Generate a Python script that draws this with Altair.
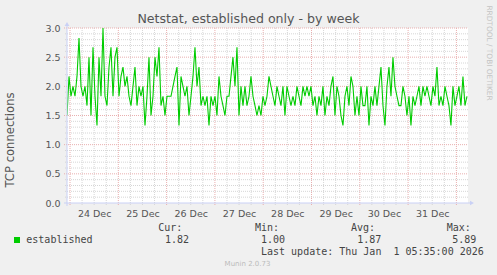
import altair as alt
import pandas as pd

# ---- data (30-ish minute averages, ~1 h apart) ----
values = [
    1.5, 2.17, 1.83, 2.0, 1.83, 2.17, 2.83, 2.0, 1.83, 2.0, 1.67, 2.5, 1.5, 2.67, 1.83,
    1.33, 2.5, 1.83, 3.0, 1.83, 1.67, 2.33, 2.67, 1.83, 2.5, 2.67, 1.83, 2.17, 2.33, 2.0,
    2.17, 1.83, 1.67, 2.0, 2.33, 1.67, 2.0, 1.83, 2.0, 1.33, 1.83, 2.5, 1.5, 1.83, 2.5,
    2.17, 2.67, 1.67, 1.83, 1.5, 1.83, 1.83, 1.83, 2.0, 2.17, 2.33, 1.33, 2.17, 2.0,
    1.83, 2.0, 1.5, 1.83, 2.17, 2.67, 2.0, 2.33, 1.67, 1.83, 1.67, 1.83, 1.33, 1.83, 1.67,
    1.83, 1.5, 2.17, 1.83, 1.67, 1.5, 1.83, 1.83, 2.17, 2.5, 2.0, 2.67, 1.5, 2.0,
    1.67, 2.0, 1.67, 1.83, 2.17, 1.83, 1.67, 1.5, 1.67, 1.5, 1.83, 1.67, 1.83, 2.17, 2.0,
    1.83, 1.67, 2.0, 1.83, 1.67, 2.0, 1.5, 2.0, 1.83, 1.67, 1.83, 1.67, 2.0, 1.83,
    1.67, 2.0, 1.83, 2.0, 1.83, 2.0, 1.67, 1.83, 1.5, 1.83, 1.67, 2.0, 1.5, 1.83, 1.67,
    2.0, 2.17, 1.5, 2.0, 1.83, 1.5, 1.33, 1.83, 2.0, 1.67, 2.17, 2.0, 1.5, 1.83,
    1.5, 2.0, 1.67, 1.67, 2.0, 1.33, 1.83, 1.67, 2.0, 1.67, 2.0, 2.33, 1.67, 1.33, 2.0,
    2.33, 1.83, 2.5, 2.0, 1.83, 1.67, 1.67, 2.0, 1.83, 1.5, 1.83, 1.33, 1.83, 1.67,
    1.83, 2.0, 1.67, 2.0, 1.83, 2.0, 1.83, 1.67, 2.0, 1.83, 2.33, 1.67, 1.83, 1.67, 2.0,
    1.83, 1.67, 1.33, 2.0, 1.67, 1.83, 2.0, 1.67, 2.17, 1.67, 1.83,
]
series_start = "2025-12-23 22:30"
series_end = "2026-01-01 05:15"
day_numbers = [24, 25, 26, 27, 28, 29, 30, 31]
y_label_values = [0.0, 0.5, 1.0, 1.5, 2.0, 2.5, 3.0]
title_text = "Netstat, established only - by week"
y_title = "TCP connections"
legend_name = "established"
stat_heads = ["Cur:", "Min:", "Avg:", "Max:"]
stat_values = ["1.82", "1.00", "1.87", "5.89"]
last_update = "Last update: Thu Jan\u00a0 1 05:35:00 2026"
footer = "Munin 2.0.73"
side_text = "RRDTOOL / TOBI OETIKER"

# ---- tables built from the arrays ----
times = pd.date_range(series_start, series_end, periods=len(values))
df = pd.DataFrame({"time": times, "value": values})

major_days = pd.DataFrame({"t": pd.date_range("2025-12-24", "2026-01-01", freq="D")})
minor_all = pd.date_range("2025-12-24 06:00", "2026-01-01 00:00", freq="6h")
minor_days = pd.DataFrame({"t": [t for t in minor_all if t.hour != 0]})

y_major = pd.DataFrame({"value": [0.5, 1.0, 1.5, 2.0, 2.5, 3.0]})
y_minor = pd.DataFrame({"value": [round(i * 0.1, 1) for i in range(1, 30) if i % 5 != 0]})

W, H = 401, 175
xdom = [alt.DateTime(year=2025, month=12, date=23, hours=22, minutes=30),
        alt.DateTime(year=2026, month=1, date=1, hours=5, minutes=46)]
xscale = alt.Scale(domain=xdom)
yscale = alt.Scale(domain=[0, 3], nice=False, zero=False)

GRID_GRAY = "#D6D6D6"
GRID_RED = "#E9AFAF"
AXIS_BLUE = "#C9D0F5"
TEXT = "#555555"

x_axis = alt.Axis(values=[alt.DateTime(year=2025, month=12, date=d, hours=12) for d in day_numbers],
                  format="%d %b", grid=False, ticks=False, domain=False,
                  labelFont="DejaVu Sans", labelFontSize=9.5, labelColor=TEXT,
                  labelPadding=5, labelAngle=0, title=None)
y_axis = alt.Axis(values=y_label_values, format=".1f", grid=False, ticks=False, domain=False,
                  labelFont="DejaVu Sans", labelFontSize=9.5, labelColor=TEXT,
                  labelPadding=7, title=None)

vminor = alt.Chart(minor_days).mark_rule(color=GRID_GRAY, strokeDash=[1, 1], strokeWidth=1).encode(
    x=alt.X("t:T", scale=xscale, axis=x_axis), y=alt.value(0), y2=alt.value(H + 2))
vmajor = alt.Chart(major_days).mark_rule(color=GRID_RED, strokeDash=[1, 1], strokeWidth=1).encode(
    x=alt.X("t:T", scale=xscale, axis=x_axis), y=alt.value(0), y2=alt.value(H + 3))
hminor = alt.Chart(y_minor).mark_rule(color=GRID_GRAY, strokeDash=[1, 1], strokeWidth=1).encode(
    y=alt.Y("value:Q", scale=yscale, axis=y_axis), x=alt.value(-2), x2=alt.value(W))
hmajor = alt.Chart(y_major).mark_rule(color=GRID_RED, strokeDash=[1, 1], strokeWidth=1).encode(
    y=alt.Y("value:Q", scale=yscale, axis=y_axis), x=alt.value(-3), x2=alt.value(W))

line = alt.Chart(df).mark_line(color="#00CC00", strokeWidth=1.1, clip=True).encode(
    x=alt.X("time:T", scale=xscale, axis=x_axis),
    y=alt.Y("value:Q", scale=yscale, axis=y_axis),
)

one = pd.DataFrame({"k": [0]})
yaxis_line = alt.Chart(one).mark_rule(color=AXIS_BLUE, strokeWidth=1).encode(
    x=alt.value(0), y=alt.value(-3), y2=alt.value(H + 3))
xaxis_line = alt.Chart(one).mark_rule(color=AXIS_BLUE, strokeWidth=1).encode(
    x=alt.value(-3), x2=alt.value(W + 3), y=alt.value(H))
arrow_up = alt.Chart(one).mark_point(shape="triangle-up", filled=True, color=AXIS_BLUE, size=22, opacity=1).encode(
    x=alt.value(0), y=alt.value(-4))
arrow_right = alt.Chart(one).mark_point(shape="triangle-right", filled=True, color=AXIS_BLUE, size=22, opacity=1).encode(
    x=alt.value(W + 4), y=alt.value(H))


def txt(s, x, y, size, color, font="DejaVu Sans", align="left", angle=0, baseline="middle"):
    return alt.Chart(pd.DataFrame({"s": [s]})).mark_text(
        font=font, fontSize=size, color=color, align=align, baseline=baseline, angle=angle
    ).encode(text="s:N", x=alt.value(x), y=alt.value(y))


texts = [
    txt(title_text, 181.5, -9, 12.6, TEXT, align="center"),
    txt(y_title, -56, 112, 11.6, TEXT, align="center", angle=270),
    txt(side_text, 421.5, 25, 7.4, "#C4C4C4", align="center", angle=90),
    txt(legend_name, -40.7, 211.5, 10, "#444444", font="DejaVu Sans Mono"),
    txt(last_update, 194, 223.5, 10, "#444444", font="DejaVu Sans Mono"),
    txt(footer, 180.5, 235.5, 7, "#BBBBBB", align="center"),
]
head_x = [91.3, 188, 284, 379.7]
val_x = [98, 194, 290.3, 385.3]
for h, v, hx, vx in zip(stat_heads, stat_values, head_x, val_x):
    texts.append(txt(h, hx, 199.7, 10, "#444444", font="DejaVu Sans Mono"))
    texts.append(txt(v, vx, 211.5, 10, "#444444", font="DejaVu Sans Mono"))

legend_sq = alt.Chart(one).mark_rect(color="#00CC00").encode(
    x=alt.value(-53), x2=alt.value(-47), y=alt.value(209), y2=alt.value(215))

chart = alt.layer(
    vminor, vmajor, hminor, hmajor, line, yaxis_line, xaxis_line, arrow_up, arrow_right,
    legend_sq, *texts
).properties(
    width=W, height=H,
    autosize=alt.AutoSizeParams(type="none"),
    padding={"left": 67, "top": 28, "right": 29, "bottom": 72},
    background="#F0F0F0",
).configure_view(fill="white", stroke=None)

chart.save("out.html", embed_options={"renderer": "svg", "actions": False})
